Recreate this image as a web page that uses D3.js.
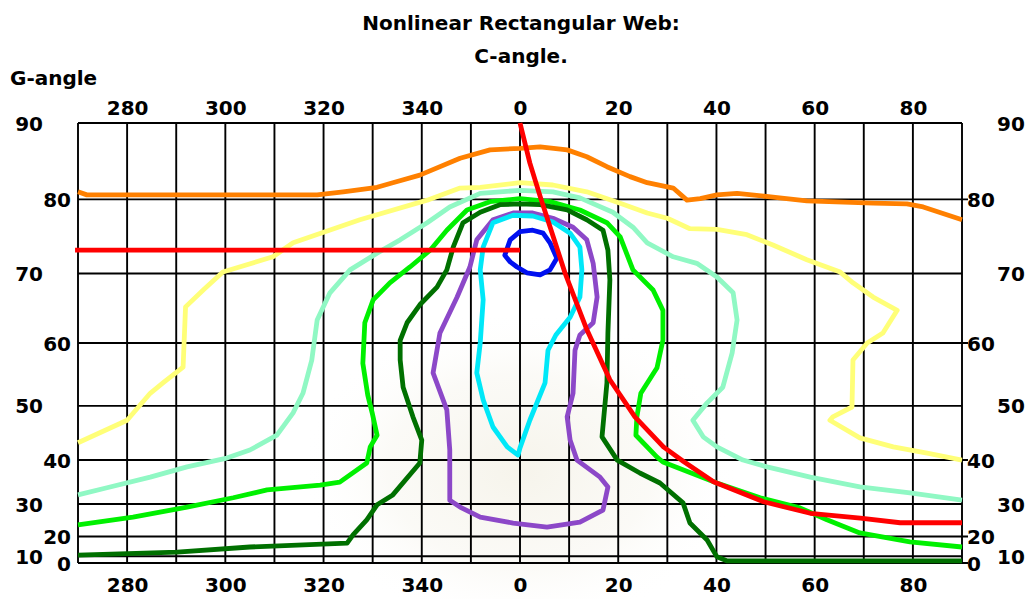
<!DOCTYPE html>
<html>
<head>
<meta charset="utf-8">
<script src="https://cdn.jsdelivr.net/npm/d3@7"></script>
<style>
  html, body { margin: 0; padding: 0; background: #ffffff; }
  svg { display: block; }
  text { font-family: "DejaVu Sans", sans-serif; font-weight: bold; fill: #000; }
</style>
</head>
<body>
<svg id="chart" width="1031" height="599"></svg>
<script>
// C-angle tick positions (negative = 360 + C) and G-angle labels
const cTickValues = [-80, -60, -40, -20, 0, 20, 40, 60, 80];
const gTickValues = [90, 80, 70, 60, 50, 40, 30, 20, 10, 0];

// Iso-lines, each a list of [C-angle, G-angle] pairs
const orangeLine = [[-90,81.0],[-88.2,80.6],[-41.3,80.6],[-36.0,81.0],[-29.1,81.6],[-25.9,82.2],[-20.4,83.2],[-12.2,85.4],[-6.1,86.5],[0,86.7],[4.1,86.9],[9.6,86.5],[13.6,85.6],[17.7,84.3],[22.4,83.0],[25.9,82.2],[31.2,81.5],[34.0,79.9],[36.7,80.1],[40.1,80.6],[44.2,80.8],[51.5,80.3],[58.4,79.8],[71.9,79.5],[78.8,79.4],[82.1,79.0],[90,77.3]];

const yellowLine = [[-90,43.4],[-80,47.5],[-75.3,52.1],[-72.7,53.8],[-68.6,56.3],[-68.1,65.3],[-64.5,67.7],[-60.5,70.2],[-50.3,72.3],[-46.2,74.2],[-32.6,77.3],[-18.9,79.9],[-12.2,81.5],[-8.1,81.6],[0,82.2],[6.7,81.9],[13.6,81.0],[20.4,79.5],[25.9,78.2],[30.0,77.5],[34.6,76.1],[40.1,76.0],[46.2,75.3],[51.5,73.9],[58.4,71.9],[65.2,70.2],[67.8,68.7],[71.9,66.7],[76.8,64.8],[73.9,61.5],[70.7,60.0],[67.8,57.4],[67.6,49.8],[63.7,48.1],[63.1,47.5],[69.2,44.3],[76.0,42.6],[82.9,41.4],[90,40.0]];

const mintLine = [[-90,32.3],[-84.1,34.0],[-75.3,36.4],[-67.8,38.6],[-59.7,40.4],[-55.0,42.0],[-49.5,44.8],[-46.2,48.8],[-44.2,52.1],[-42.4,57.4],[-41.3,63.4],[-38.7,67.3],[-34.6,70.5],[-29.1,72.8],[-24.4,74.6],[-18.9,76.9],[-14.3,79.0],[-8.1,80.8],[0,81.2],[6.7,81.0],[12.2,80.2],[18.9,78.3],[23.0,76.3],[25.9,74.2],[31.2,72.3],[36.0,71.4],[40.1,69.5],[43.4,67.3],[44.2,63.4],[43.2,58.5],[41.3,53.1],[38.1,50.5],[35.2,47.5],[37.3,44.5],[40.1,42.6],[45.4,40.0],[50.3,38.6],[59.1,36.4],[69.2,34.2],[79.4,32.8],[90,31.0]];

const limeLine = [[-90,24.0],[-78.8,26.4],[-67.8,29.2],[-58.4,31.6],[-51.5,33.5],[-40.7,34.6],[-36.7,35.3],[-31.2,39.4],[-30.5,42.6],[-29.1,44.8],[-30.1,48.8],[-31.0,51.8],[-32.0,56.9],[-31.6,63.0],[-29.9,66.3],[-26.5,68.7],[-22.4,70.9],[-18.3,73.2],[-14.9,75.9],[-10.8,78.6],[-6.1,79.7],[0,80.1],[6.1,79.7],[12.2,78.6],[17.7,76.9],[20.4,75.0],[23.0,70.5],[27.1,67.7],[29.1,64.8],[29.1,60.4],[27.9,56.2],[24.6,52.1],[23.8,48.1],[23.6,44.8],[27.9,40.6],[29.1,39.6],[40.1,35.1],[48.9,31.6],[57.0,29.0],[62.5,25.6],[69.2,21.3],[79.4,17.8],[90,15.5]];

const darkGreenLine = [[-90,10.9],[-69.8,12.8],[-55.0,15.5],[-35.2,17.3],[-34.0,20.6],[-31.2,25.6],[-29.1,29.8],[-25.9,32.3],[-20.4,39.4],[-20.0,43.9],[-21.8,48.1],[-23.8,53.1],[-24.4,57.4],[-24.4,60.4],[-23.0,63.0],[-20.4,65.6],[-16.9,68.1],[-14.9,70.5],[-13.6,73.6],[-11.6,76.9],[-8.1,78.3],[-4.1,79.3],[0,79.4],[4.1,79.3],[9.6,78.6],[13.6,77.3],[16.9,75.9],[17.9,73.2],[18.3,69.1],[17.9,61.5],[17.7,53.8],[16.7,44.5],[19.8,40.0],[24.4,37.3],[28.5,35.1],[33.2,30.3],[34.6,24.6],[38.1,18.6],[40.1,9.6],[42.2,5.5],[90,5.5]];

const purpleLoop = [[-14.3,31.0],[-14.3,42.0],[-14.9,49.3],[-17.7,55.4],[-16.3,61.5],[-12.8,66.7],[-10.2,70.9],[-8.8,74.6],[-5.5,77.3],[-1.4,78.2],[2.6,78.2],[6.7,77.5],[10.8,76.3],[13.6,74.6],[14.9,71.4],[15.7,66.7],[14.9,63.0],[12.2,61.2],[11.2,58.9],[10.8,52.1],[9.6,48.1],[10.2,43.9],[11.6,40.0],[16.3,36.4],[17.9,34.2],[16.9,28.4],[12.2,24.9],[5.5,23.3],[-1.4,24.6],[-8.1,26.4],[-12.2,29.2]];

const cyanLoop = [[-0.4,41.0],[-2.6,42.6],[-5.5,46.3],[-7.5,51.0],[-8.8,55.4],[-8.1,60.0],[-7.5,66.3],[-8.1,70.5],[-7.5,73.6],[-5.5,76.9],[-1.4,77.9],[2.6,77.8],[6.7,77.0],[10.2,75.5],[12.2,73.6],[12.6,70.5],[12.2,66.7],[10.2,63.8],[7.3,61.2],[5.7,58.9],[5.1,53.8],[2.0,47.5],[0,42.4]];

const blueLoop = [[-3.1,72.5],[-2.0,74.6],[0,75.7],[2.6,75.9],[4.7,75.5],[6.1,74.2],[7.5,72.1],[6.1,70.5],[4.1,69.8],[1.4,70.1],[-0.6,70.9],[-2.0,71.6]];

// Cut-off curve and the reference G-angle line
const redCurve = [[0,90],[2.0,84.8],[4.1,80.4],[9.2,70.0],[13.6,62.0],[18.3,54.3],[23.4,48.1],[29.2,42.6],[33.3,39.7],[39.4,35.4],[49.6,30.6],[59.1,27.5],[69.3,26.1],[77.4,24.7],[90,24.7]];
const redLevel = [[-90.6,73.2],[0,73.2]];

const svg = d3.select("#chart");
const plotLeft = 78, plotRight = 962, plotTop = 123, plotBottom = 563;

const x = d3.scaleLinear().domain([-90, 90]).range([plotLeft, plotRight]);
// vertical position follows cos(G): 90 at the top, 0 at the bottom
const yCos = d3.scaleLinear().domain([0, 1]).range([plotTop, plotBottom]);
const y = g => yCos(Math.cos(g * Math.PI / 180));

// faint background emblem
const defs = svg.append("defs");
const rg = defs.append("radialGradient").attr("id", "haze");
rg.append("stop").attr("offset", "0%").attr("stop-color", "#f3f0e4").attr("stop-opacity", 0.75);
rg.append("stop").attr("offset", "60%").attr("stop-color", "#f6f4ec").attr("stop-opacity", 0.45);
rg.append("stop").attr("offset", "100%").attr("stop-color", "#ffffff").attr("stop-opacity", 0);
svg.append("ellipse").attr("cx", 520).attr("cy", 470).attr("rx", 220).attr("ry", 160)
  .attr("fill", "url(#haze)");

// grid
const grid = svg.append("g").attr("stroke", "#000").attr("stroke-width", 1.9).attr("fill", "none");
grid.selectAll("line.v").data(d3.range(-90, 91, 10)).join("line").attr("class", "v")
  .attr("x1", d => x(d)).attr("x2", d => x(d)).attr("y1", plotTop).attr("y2", plotBottom);
grid.selectAll("line.h").data(gTickValues).join("line").attr("class", "h")
  .attr("x1", plotLeft).attr("x2", d => [80, 60, 40, 20, 0].includes(d) ? plotRight + 6 : plotRight)
  .attr("y1", d => y(d)).attr("y2", d => y(d));

// iso-lines
const line = d3.line().x(d => x(d[0])).y(d => y(d[1]));
const lineClosed = d3.line().x(d => x(d[0])).y(d => y(d[1])).curve(d3.curveLinearClosed);
const series = [
  { data: orangeLine, color: "#ff8000", closed: false },
  { data: yellowLine, color: "#ffff78", closed: false },
  { data: mintLine, color: "#90f8c4", closed: false },
  { data: limeLine, color: "#00f000", closed: false },
  { data: darkGreenLine, color: "#007000", closed: false },
  { data: purpleLoop, color: "#8c48c8", closed: true },
  { data: cyanLoop, color: "#00e8f8", closed: true },
  { data: blueLoop, color: "#0010f0", closed: true },
  { data: redLevel, color: "#ff0000", closed: false },
  { data: redCurve, color: "#ff0000", closed: false }
];
svg.append("g").selectAll("path").data(series).join("path")
  .attr("d", s => (s.closed ? lineClosed : line)(s.data))
  .attr("fill", "none")
  .attr("stroke", s => s.color)
  .attr("stroke-width", 4.8)
  .attr("stroke-linejoin", "round")
  .attr("stroke-linecap", "butt");

// C-angle axes, top and bottom
const cFormat = c => c < 0 ? 360 + c : c;
const axTop = svg.append("g").attr("transform", `translate(0,${plotTop - 8})`)
  .call(d3.axisTop(x).tickValues(cTickValues).tickFormat(cFormat).tickSize(0).tickPadding(0));
const axBot = svg.append("g").attr("transform", `translate(0,${plotBottom + 29})`)
  .call(d3.axisBottom(x).tickValues(cTickValues).tickFormat(cFormat).tickSize(0).tickPadding(0));
[axTop, axBot].forEach(a => {
  a.select(".domain").remove();
  a.selectAll("text").attr("font-size", 20).attr("font-family", "DejaVu Sans")
    .attr("font-weight", "bold").attr("fill", "#000").attr("dy", 0)
    .attr("dominant-baseline", "alphabetic");
});

// G-angle labels, staggered on both sides
const gl = svg.append("g").attr("font-size", 20);
gl.selectAll("text.l").data(gTickValues).join("text").attr("class", "l")
  .attr("x", (d, i) => i % 2 === 0 ? 43 : 71)
  .attr("y", d => y(d) + 7.5)
  .attr("text-anchor", "end")
  .text(d => d);
gl.selectAll("text.r").data(gTickValues).join("text").attr("class", "r")
  .attr("x", (d, i) => i % 2 === 0 ? 997 : 967)
  .attr("y", d => y(d) + 7.5)
  .attr("text-anchor", "start")
  .text(d => d);

// titles
svg.append("text").attr("x", 521).attr("y", 30).attr("text-anchor", "middle")
  .attr("font-size", 20).text("Nonlinear Rectangular Web:");
svg.append("text").attr("x", 521).attr("y", 63).attr("text-anchor", "middle")
  .attr("font-size", 20).text("C-angle.");
svg.append("text").attr("x", 10).attr("y", 85).attr("text-anchor", "start")
  .attr("font-size", 20).text("G-angle");
</script>
</body>
</html>
